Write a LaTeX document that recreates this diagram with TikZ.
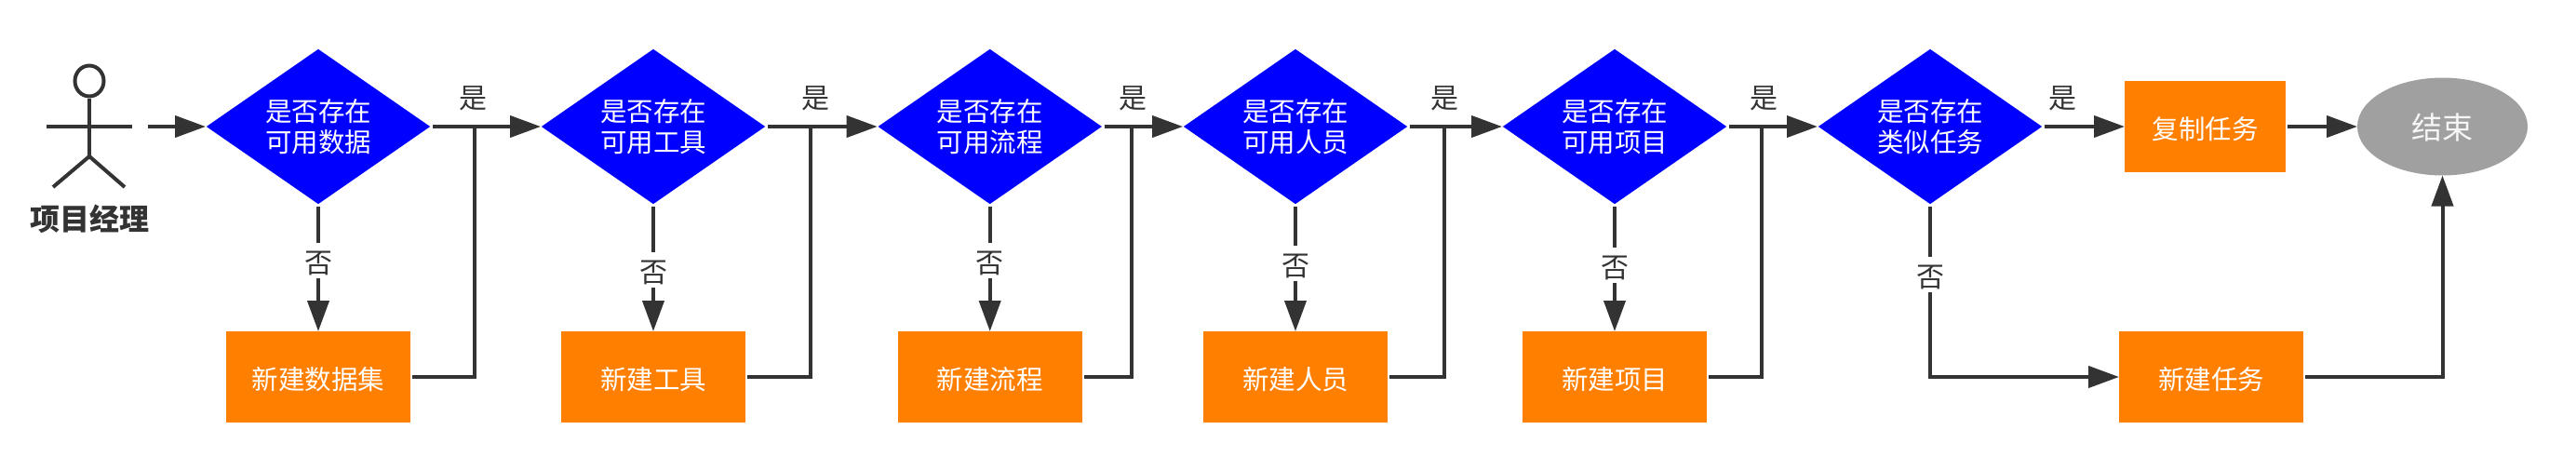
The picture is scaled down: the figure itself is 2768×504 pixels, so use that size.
\documentclass[tikz,border=0pt]{standalone}
\usepackage{fontspec}
\setmainfont{Noto Sans CJK SC}
\usetikzlibrary{shapes.geometric,arrows.meta}
\definecolor{orange1}{HTML}{FF8000}
\definecolor{gray1}{HTML}{A0A0A0}
\definecolor{ink}{HTML}{333333}
\newcommand\downtxt{\rule{0pt}{29pt}}
\tikzset{
  x=1pt,y=-1pt,
  txt/.style={font=\fontsize{28.5}{33}\selectfont,align=center,inner sep=0pt,execute at begin node=\downtxt},
  dec/.style={shape=diamond,fill=blue,text=white,txt,minimum width=242pt,minimum height=168pt,shape aspect=1.446,outer sep=2pt},
  boxa/.style={rectangle,fill=orange1,text=white,txt,minimum width=198pt,minimum height=98pt,outer sep=2pt},
  endn/.style={ellipse,fill=gray1,text=white!90!gray1,txt,font=\fontsize{33}{36}\selectfont,minimum width=183pt,minimum height=105pt,outer sep=2pt},
  flow/.style={draw=ink,line width=4pt,shorten >=-2pt,-{Triangle[length=33pt,width=23pt]}},
  link/.style={draw=ink,line width=4pt},
  lab/.style={txt,font=\fontsize{30}{33}\selectfont,text=ink,fill=white,inner ysep=3pt,inner xsep=2pt},
  labt/.style={txt,font=\fontsize{30}{33}\selectfont,text=ink},
  actor/.style={draw=ink,line width=4pt},
}
\begin{document}
\begin{tikzpicture}
\useasboundingbox (0,0) rectangle (2768,504);
% actor
\node[ellipse,draw=ink,line width=4pt,minimum width=31pt,minimum height=33pt,inner sep=0pt] (head) at (96,87) {};
\coordinate (neck) at (96,168);
\coordinate (armL) at (50,136);
\coordinate (armR) at (141.5,136);
\coordinate (legL) at (57,201);
\coordinate (legR) at (134,201);
\draw[actor] (head.south) -- (neck);
\draw[actor] (armL) -- (armR);
\draw[actor] (legL) -- (neck) -- (legR);
\node[txt,text=ink,font=\fontsize{32}{36}\selectfont\bfseries] (pm) at (96,235) {项目经理};
% decisions
\node[dec] (d1) at (342,136) {是否存在\\可用数据};
\node[dec] (d2) at (702,136) {是否存在\\可用工具};
\node[dec] (d3) at (1063.7,136) {是否存在\\可用流程};
\node[dec] (d4) at (1392,136) {是否存在\\可用人员};
\node[dec] (d5) at (1735,136) {是否存在\\可用项目};
\node[dec] (d6) at (2074,136) {是否存在\\类似任务};
% boxes
\node[boxa] (b1) at (342,405) {新建数据集};
\node[boxa] (b2) at (702,405) {新建工具};
\node[boxa] (b3) at (1063.7,405) {新建流程};
\node[boxa] (b4) at (1392,405) {新建人员};
\node[boxa] (b5) at (1735,405) {新建项目};
\node[boxa] (b6) at (2376,405) {新建任务};
\node[boxa,minimum width=173pt] (c) at (2369.5,136) {复制任务};
\node[endn] (e) at (2624.5,136) {结束};
% junctions
\coordinate (j1) at (510,136);
\coordinate (j2) at (871,136);
\coordinate (j3) at (1216,136);
\coordinate (j4) at (1552,136);
\coordinate (j5) at (1892.5,136);
\coordinate (a) at (159,136);
% connectors
\draw[flow] (a) -- (d1.west);
\draw[flow] (d1.east) -- (d2.west);
\draw[flow] (d2.east) -- (d3.west);
\draw[flow] (d3.east) -- (d4.west);
\draw[flow] (d4.east) -- (d5.west);
\draw[flow] (d5.east) -- (d6.west);
\draw[flow] (d6.east) -- (c.west);
\draw[flow] (c.east) -- (e.west);
\draw[flow] (d1.south) -- (b1.north);
\draw[flow] (d2.south) -- (b2.north);
\draw[flow] (d3.south) -- (b3.north);
\draw[flow] (d4.south) -- (b4.north);
\draw[flow] (d5.south) -- (b5.north);
\draw[flow] (d6.south) |- (b6.west);
\draw[flow] (b6.east) -| (e.south);
\draw[link] (b1.east) -| (j1);
\draw[link] (b2.east) -| (j2);
\draw[link] (b3.east) -| (j3);
\draw[link] (b4.east) -| (j4);
\draw[link] (b5.east) -| (j5);
% labels
\node[labt] (y1) at (508,103) {是};
\node[labt] (y2) at (876,103) {是};
\node[labt] (y3) at (1217.5,103) {是};
\node[labt] (y4) at (1552,103) {是};
\node[labt] (y5) at (1895,103) {是};
\node[labt] (y6) at (2216,103) {是};
\node[lab] (n1) at (342,280) {否};
\node[lab] (n2) at (702,290) {否};
\node[lab] (n3) at (1063.7,280) {否};
\node[lab] (n4) at (1392,283) {否};
\node[lab] (n5) at (1735,285) {否};
\node[lab] (n6) at (2074,295) {否};
\end{tikzpicture}
\end{document}
